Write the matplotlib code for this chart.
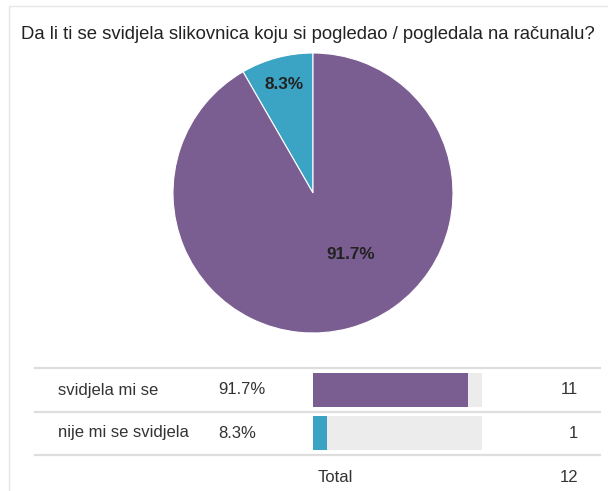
import matplotlib.pyplot as plt
from matplotlib.patches import Rectangle

plt.rcParams['font.family'] = ['Liberation Sans', 'DejaVu Sans']

# Podaci
title = 'Da li ti se svidjela slikovnica koju si pogledao / pogledala na računalu?'
answers = ['svidjela mi se', 'nije mi se svidjela']
counts = [11, 1]
colors = ['#7b5e91', '#3ba3c3']
total = sum(counts)
pcts = [c / total * 100 for c in counts]

W, H = 608, 491
fig = plt.figure(figsize=(W / 100, H / 100), dpi=100)

# overlay u pikselima
ax0 = fig.add_axes([0, 0, 1, 1])
ax0.set_xlim(0, W)
ax0.set_ylim(H, 0)
ax0.axis('off')

# okvir
ax0.add_patch(Rectangle((9, 6), W + 5, H, fill=False, ec='#e6e6e6', lw=1))

ax0.text(21, 34, title, fontsize=13.3, color='#222222', va='center', ha='left')

# pie
cx, cy, r = 313, 193, 140
axp = fig.add_axes([(cx - r) / W, (H - cy - r) / H, 2 * r / W, 2 * r / H])
wedges, texts, autotexts = axp.pie(
    counts[::-1], colors=colors[::-1], startangle=90, counterclock=True,
    autopct='%.1f%%', pctdistance=0.8,
    wedgeprops=dict(edgecolor='white', linewidth=0.8),
    textprops=dict(fontsize=12.3, fontweight='bold', color='#222222'))
autotexts[1].set_position((0.27, -0.44))
axp.set_aspect('equal')
axp.set_xlim(-1, 1)
axp.set_ylim(-1, 1)

# tablica
row_y = [390, 433]
line_y = [368, 412, 455]
for y in line_y:
    ax0.plot([35, 600], [y, y], color='#dedede', lw=1.6)

bar_x0, bar_w = 313, 169
ax0.barh(row_y, [bar_w] * 2, left=bar_x0, height=34, color='#ececec')
ax0.barh(row_y, [p / 100 * bar_w for p in pcts], left=bar_x0, height=34, color=colors)

fs = 12
for y, a, p, c in zip(row_y, answers, pcts, counts):
    ax0.text(58, y, a, fontsize=fs, color='#333333', va='center')
    ax0.text(218, y, f'{p:.1f}%', fontsize=fs, color='#333333', va='center')
    ax0.text(578, y, str(c), fontsize=fs, color='#333333', va='center', ha='right')

ax0.text(318, 478, 'Total', fontsize=fs, color='#333333', va='center')
ax0.text(578, 478, str(total), fontsize=fs, color='#333333', va='center', ha='right')

fig.savefig('out.png', dpi=100)
